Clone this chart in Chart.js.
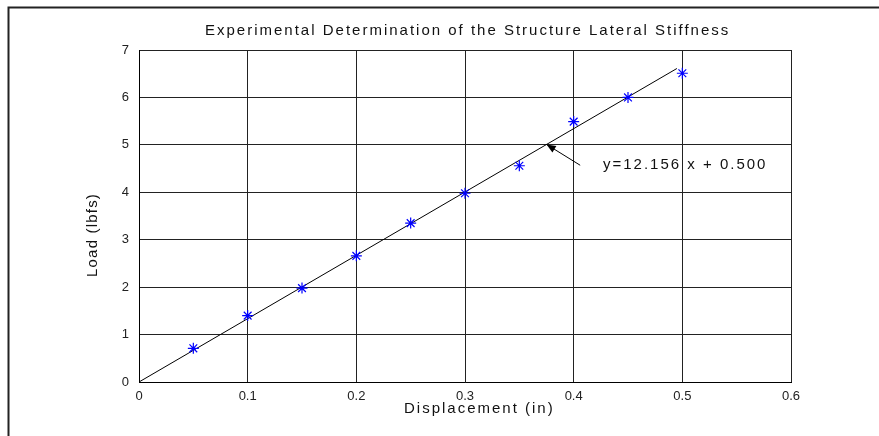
<!DOCTYPE html>
<html>
<head>
<meta charset="utf-8">
<script src="https://cdn.jsdelivr.net/npm/chart.js@4"></script>
<style>
  html, body { margin: 0; padding: 0; background: #fff; }
  #c { display: block; }
</style>
</head>
<body>
<canvas id="c" width="879" height="436"></canvas>
<script>
// measured points (displacement in, load lbfs)
const dispIn = [0.05, 0.10, 0.15, 0.20, 0.25, 0.30, 0.35, 0.40, 0.45, 0.50];
const loadLbf = [0.71, 1.40, 1.98, 2.66, 3.35, 3.98, 4.56, 5.49, 6.00, 6.51];

// fitted line as drawn
const fitX = [0, 0.495];
const fitY = [0, 6.61];

const titleText = 'Experimental Determination of the Structure Lateral Stiffness';
const xLabel = 'Displacement (in)';
const yLabel = 'Load (lbfs)';
const eqText = 'y=12.156 x + 0.500';
// arrow from text to the line, in data units
const arrowTail = { x: 0.406, y: 4.57 };
const arrowHead = { x: 0.375, y: 5.01 };
const eqPos = { x: 0.427, y: 4.57 };

const FONT = '"Liberation Sans", Arial, sans-serif';

const decor = {
  id: 'decor',
  afterDraw(chart) {
    const ctx = chart.ctx;
    const xs = chart.scales.x, ys = chart.scales.y;
    ctx.save();
    // outer frame (top + left edges)
    ctx.strokeStyle = '#222';
    ctx.lineWidth = 2;
    ctx.beginPath();
    ctx.moveTo(879, 7.5);
    ctx.lineTo(8.5, 7.5);
    ctx.lineTo(8.5, 436);
    ctx.stroke();

    ctx.fillStyle = '#111';
    ctx.textBaseline = 'middle';
    ctx.textAlign = 'left';
    ctx.font = '15px ' + FONT;
    ctx.letterSpacing = '2px';
    ctx.fillText(titleText, 205, 31);
    ctx.fillText(xLabel, 404, 409);
    ctx.fillText(eqText, xs.getPixelForValue(eqPos.x), ys.getPixelForValue(eqPos.y));

    ctx.letterSpacing = '1.2px';
    ctx.translate(93, 277);
    ctx.rotate(-Math.PI / 2);
    ctx.fillText(yLabel, 0, 0);
    ctx.setTransform(1, 0, 0, 1, 0, 0);
    ctx.letterSpacing = '0px';

    // arrow
    const tx = xs.getPixelForValue(arrowTail.x), ty = ys.getPixelForValue(arrowTail.y);
    const hx = xs.getPixelForValue(arrowHead.x), hy = ys.getPixelForValue(arrowHead.y);
    const ang = Math.atan2(hy - ty, hx - tx);
    ctx.strokeStyle = '#000';
    ctx.lineWidth = 1;
    ctx.beginPath();
    ctx.moveTo(tx, ty);
    ctx.lineTo(hx, hy);
    ctx.stroke();
    const L = 10, W = 0.38;
    ctx.fillStyle = '#000';
    ctx.beginPath();
    ctx.moveTo(hx, hy);
    ctx.lineTo(hx - L * Math.cos(ang - W), hy - L * Math.sin(ang - W));
    ctx.lineTo(hx - L * Math.cos(ang + W), hy - L * Math.sin(ang + W));
    ctx.closePath();
    ctx.fill();
    ctx.restore();
  }
};

new Chart(document.getElementById('c'), {
  type: 'scatter',
  data: {
    datasets: [
      {
        label: 'fit',
        data: fitX.map((x, i) => ({ x: x, y: fitY[i] })),
        showLine: true,
        borderColor: '#000',
        borderWidth: 1,
        pointRadius: 0,
        order: 2
      },
      {
        label: 'measured',
        data: dispIn.map((x, i) => ({ x: x, y: loadLbf[i] })),
        pointStyle: 'star',
        pointRadius: 5.5,
        borderColor: '#0000ff',
        backgroundColor: '#0000ff',
        borderWidth: 1.2,
        order: 1
      }
    ]
  },
  options: {
    responsive: false,
    animation: false,
    layout: { padding: { left: 0, right: 88, top: 50, bottom: 0 } },
    plugins: { legend: { display: false }, tooltip: { enabled: false } },
    scales: {
      x: {
        type: 'linear',
        min: 0, max: 0.6,
        afterFit: s => { s.height = 54; },
        ticks: {
          stepSize: 0.1,
          padding: 7,
          color: '#222',
          font: { family: FONT, size: 13 },
          callback: v => (Math.round(v * 10) / 10).toString()
        },
        grid: { color: '#222', lineWidth: 1, drawTicks: false },
        border: { color: '#000', width: 1 }
      },
      y: {
        min: 0, max: 7,
        afterFit: s => { s.width = 139; },
        ticks: {
          stepSize: 1,
          padding: 10,
          color: '#222',
          font: { family: FONT, size: 13 }
        },
        grid: { color: '#222', lineWidth: 1, drawTicks: false },
        border: { color: '#000', width: 1 }
      }
    }
  },
  plugins: [decor]
});
</script>
</body>
</html>
